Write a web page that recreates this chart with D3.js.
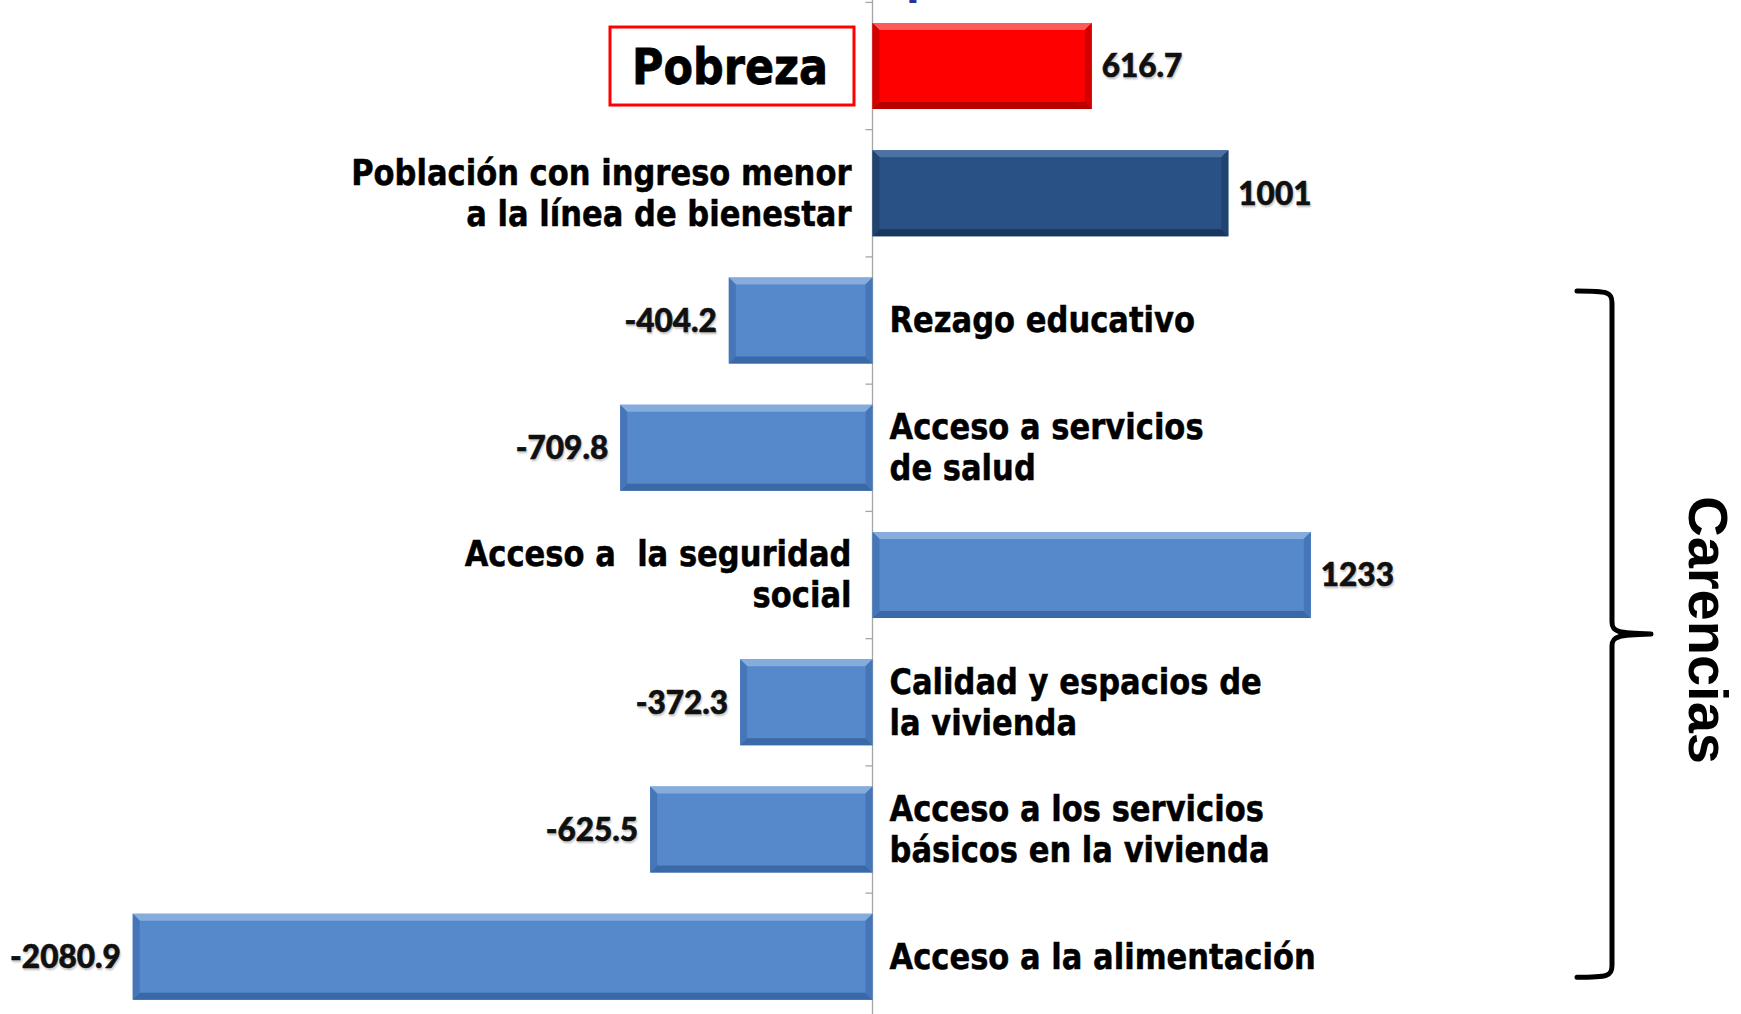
<!DOCTYPE html>
<html>
<head>
<meta charset="utf-8">
<script src="https://cdn.jsdelivr.net/npm/d3@7"></script>
<style>
  html, body { margin: 0; padding: 0; background: #ffffff; }
  svg { display: block; }
  text { white-space: pre; }
</style>
</head>
<body>
<svg id="chart" width="1741" height="1014"></svg>
<script>
// ---------------- DATA ----------------
const categories = [
  "Pobreza",
  "Población con ingreso menor\na la línea de bienestar",
  "Rezago educativo",
  "Acceso a servicios\nde salud",
  "Acceso a  la seguridad\nsocial",
  "Calidad y espacios de\nla vivienda",
  "Acceso a los servicios\nbásicos en la vivienda",
  "Acceso a la alimentación"
];
const values = [616.7, 1001, -404.2, -709.8, 1233, -372.3, -625.5, -2080.9];
const valueLabels = ["616.7", "1001", "-404.2", "-709.8", "1233", "-372.3", "-625.5", "-2080.9"];
const groupLabel = "Carencias";
const groupMembers = ["Rezago educativo", "Acceso a la alimentación"]; // first and last of the group
const highlightCategory = "Pobreza";

// ---------------- STYLES ----------------
const palette = {
  red:   { base: "#fe0000", top: "#ff5a5a", bottom: "#b80000", side: "#d40000" },
  dark:  { base: "#295186", top: "#4b72a3", bottom: "#19365e", side: "#20436f" },
  light: { base: "#5589cc", top: "#86abdd", bottom: "#3b68a6", side: "#4676b8" }
};
function colorFor(i) { return i === 0 ? palette.red : (i === 1 ? palette.dark : palette.light); }

const W = 1741, H = 1014;
const svg = d3.select("#chart");

const x = d3.scaleLinear().domain([-2400, 2400]).range([19.3, 1725.7]);
const y = d3.scaleBand().domain(categories).range([2.4, 1020.4])
  .paddingInner(0.324).paddingOuter(0.162);

const x0 = x(0);
const bevel = 7;

// ---------------- AXIS ----------------
const axisG = svg.append("g").attr("class", "axis");
axisG.append("line")
  .attr("x1", x0).attr("x2", x0).attr("y1", 0).attr("y2", H)
  .attr("stroke", "#a6a6a6").attr("stroke-width", 1.3);
const boundaries = categories.map(c => y(c) - y.step() * 0.162).concat([y.range()[1]]);
axisG.selectAll("line.tick").data(boundaries).join("line")
  .attr("class", "tick")
  .attr("x1", x0 - 7).attr("x2", x0)
  .attr("y1", d => d).attr("y2", d => d)
  .attr("stroke", "#a6a6a6").attr("stroke-width", 1.3);

// ---------------- BARS ----------------
const bars = svg.append("g").selectAll("g.bar").data(categories).join("g").attr("class", "bar");
bars.each(function(c, i) {
  const g = d3.select(this);
  const v = values[i];
  const xa = Math.min(x(0), x(v)), xb = Math.max(x(0), x(v));
  const ya = y(c), yb = y(c) + y.bandwidth();
  const col = colorFor(i);
  const b = bevel;
  g.append("rect").attr("x", xa).attr("y", ya).attr("width", xb - xa).attr("height", yb - ya)
    .attr("fill", col.base);
  g.append("polygon").attr("points", [[xa, ya], [xb, ya], [xb - b, ya + b], [xa + b, ya + b]].join(" "))
    .attr("fill", col.top);
  g.append("polygon").attr("points", [[xa, yb], [xb, yb], [xb - b, yb - b], [xa + b, yb - b]].join(" "))
    .attr("fill", col.bottom);
  g.append("polygon").attr("points", [[xa, ya], [xa + b, ya + b], [xa + b, yb - b], [xa, yb]].join(" "))
    .attr("fill", col.side);
  g.append("polygon").attr("points", [[xb, ya], [xb - b, ya + b], [xb - b, yb - b], [xb, yb]].join(" "))
    .attr("fill", col.side);
});

// ---------------- VALUE LABELS ----------------
svg.append("g").selectAll("text.val").data(categories).join("text")
  .attr("class", "val")
  .attr("x", (c, i) => values[i] >= 0 ? x(values[i]) + 10 : x(values[i]) - 12)
  .attr("y", c => y(c) + y.bandwidth() / 2)
  .attr("dy", "0.36em")
  .attr("text-anchor", (c, i) => values[i] >= 0 ? "start" : "end")
  .attr("font-family", "Lato, 'Open Sans', sans-serif")
  .attr("font-weight", 900)
  .attr("font-size", 31.5)
  .attr("fill", "#111")
  .attr("stroke", "#111").attr("stroke-width", 0.6)
  .style("text-shadow", "1px 2px 2px rgba(0,0,0,0.2)")
  .text((c, i) => valueLabels[i]);

// ---------------- CATEGORY LABELS ----------------
const lineH = 41;
const catFont = "'DejaVu Sans', Verdana, sans-serif";
const catG = svg.append("g");
categories.forEach((c, i) => {
  if (c === highlightCategory) return;
  const v = values[i];
  const left = v >= 0;
  const lines = c.split("\n");
  const cy = y(c) + y.bandwidth() / 2;
  const tx = left ? x0 - 21 : x0 + 17;
  const g = catG.append("g").attr("transform", `translate(${tx},${cy}) scale(0.85,1)`);
  const t = g.append("text")
    .attr("text-anchor", left ? "end" : "start")
    .attr("font-family", catFont)
    .attr("font-weight", "bold")
    .attr("font-size", 36)
    .attr("fill", "#000")
    .attr("stroke", "#000").attr("stroke-width", 0.5);
  lines.forEach((ln, k) => {
    t.append("tspan").attr("x", 0)
      .attr("y", (k - (lines.length - 1) / 2) * lineH)
      .attr("dy", "0.33em")
      .text(ln);
  });
});

// Highlighted "Pobreza" box
{
  const c = highlightCategory;
  const cy = y(c) + y.bandwidth() / 2;
  const bw = 244, bh = 78;
  const bx = x0 - 18.5 - bw;
  svg.append("rect").attr("x", bx).attr("y", cy - bh / 2).attr("width", bw).attr("height", bh)
    .attr("fill", "#fff").attr("stroke", "#ff0000").attr("stroke-width", 3);
  svg.append("g").attr("transform", `translate(${bx + bw / 2 - 2},${cy}) scale(0.86,1)`)
    .append("text")
    .attr("text-anchor", "middle").attr("dy", "0.36em")
    .attr("font-family", catFont).attr("font-weight", "bold")
    .attr("font-size", 50).attr("fill", "#000")
    .attr("stroke", "#000").attr("stroke-width", 0.8)
    .text(c);
}

// ---------------- GROUP BRACE ----------------
{
  const ya = y(groupMembers[0]) + 13.5;
  const yb = y(groupMembers[1]) + y.bandwidth() - 22.6;
  const ym = (ya + yb) / 2;
  const xv = 1612, xl = 1577, xt = 1651;
  const p = d3.path();
  p.moveTo(xl, ya);
  p.bezierCurveTo(xv - 4, ya, xv, ya + 1, xv, ya + 12);
  p.lineTo(xv, ym - 12);
  p.bezierCurveTo(xv, ym - 2, xv + 6, ym - 1, xt, ym);
  p.moveTo(xt, ym);
  p.bezierCurveTo(xv + 6, ym + 1, xv, ym + 2, xv, ym + 12);
  p.lineTo(xv, yb - 12);
  p.bezierCurveTo(xv, yb - 1, xv - 4, yb, xl, yb);
  svg.append("path").attr("d", p.toString())
    .attr("fill", "none").attr("stroke", "#000").attr("stroke-width", 5)
    .attr("stroke-linecap", "round").attr("stroke-linejoin", "round");

  svg.append("text")
    .attr("transform", `translate(1689,${ym - 4}) rotate(90)`)
    .attr("text-anchor", "middle")
    .attr("font-family", "'Liberation Sans', Arial, sans-serif")
    .attr("font-weight", "bold")
    .attr("font-size", 56)
    .attr("fill", "#000")
    .text(groupLabel);
}

// cut-off title fragment at the top edge
svg.append("text").attr("x", 906).attr("y", -6)
  .attr("font-family", catFont).attr("font-weight", "bold").attr("font-size", 40)
  .attr("fill", "#2e3192").text("p");
</script>
</body>
</html>
